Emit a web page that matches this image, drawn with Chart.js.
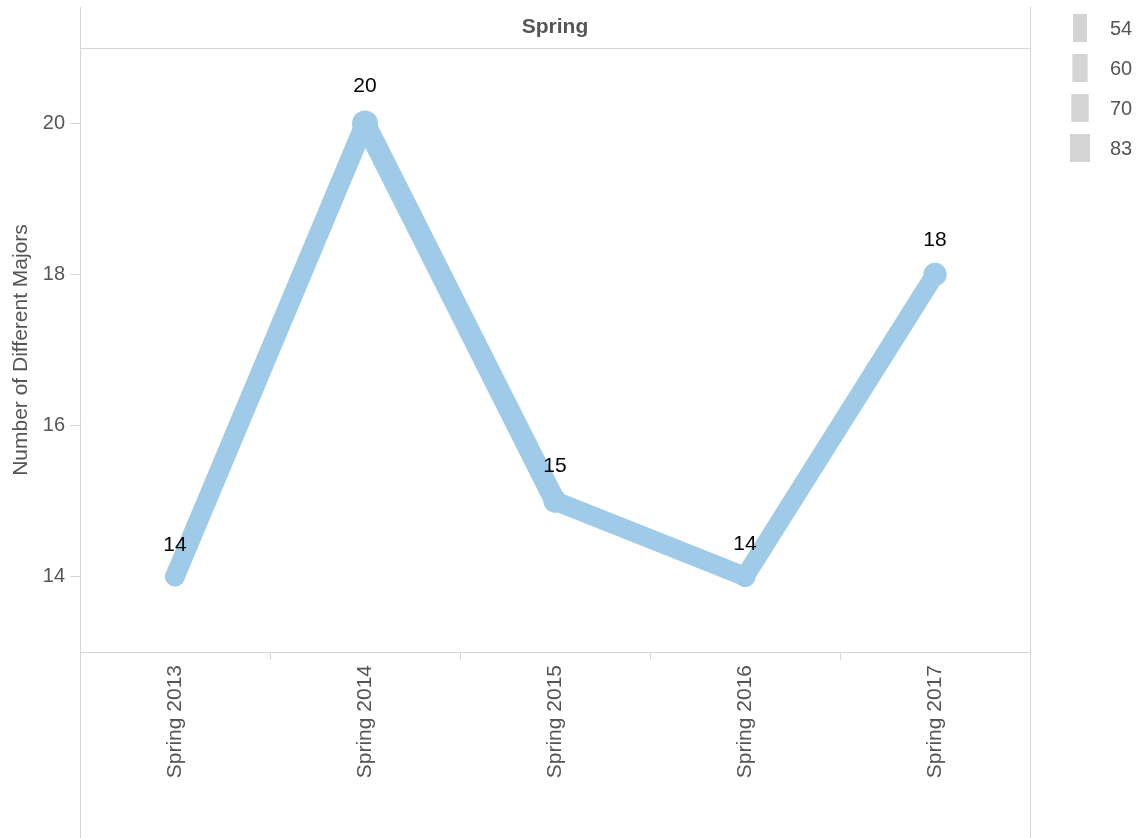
<!DOCTYPE html>
<html>
<head>
<meta charset="utf-8">
<script src="https://cdn.jsdelivr.net/npm/chart.js@4.4.1/dist/chart.umd.min.js"></script>
<style>
  html, body { margin: 0; padding: 0; background: #ffffff; }
  #wrap { width: 1139px; height: 838px; position: relative; }
</style>
</head>
<body>
<div id="wrap"><canvas id="c" width="1139" height="838"></canvas></div>
<script>
// ---- Data ----
const categories = ['Spring 2013', 'Spring 2014', 'Spring 2015', 'Spring 2016', 'Spring 2017'];
const majorsCount = [14, 20, 15, 14, 18];
const sizeValues = [54, 83, 70, 60, 70];
const legendSizes = [54, 60, 70, 83];
const yTicks = [14, 16, 18, 20];
const panelTitle = 'Spring';
const yAxisTitle = 'Number of Different Majors';

// ---- Styles ----
const LINE_COLOR = '#a0cbe8';
const BORDER_COLOR = '#d6d6d6';
const TEXT_COLOR = '#555555';
const FONT = '"Liberation Sans", Arial, sans-serif';

function radiusFor(s) { return 10 + (s - 54) * 3 / 29; }
function legendWidthFor(s) { return 14 + (s - 54) * 6 / 29; }

const framePlugin = {
  id: 'frame',
  beforeDraw(chart) {
    const ctx = chart.ctx;
    const a = chart.chartArea;
    ctx.save();
    ctx.strokeStyle = BORDER_COLOR;
    ctx.lineWidth = 1;
    ctx.beginPath();
    ctx.moveTo(a.left + 0.5, 7);
    ctx.lineTo(a.left + 0.5, chart.height);
    ctx.stroke();
    ctx.beginPath();
    ctx.moveTo(a.right + 0.5, 7);
    ctx.lineTo(a.right + 0.5, chart.height);
    ctx.stroke();
    ctx.beginPath();
    ctx.moveTo(a.left, a.top + 0.5);
    ctx.lineTo(a.right, a.top + 0.5);
    ctx.stroke();
    ctx.beginPath();
    ctx.moveTo(a.left, a.bottom + 0.5);
    ctx.lineTo(a.right, a.bottom + 0.5);
    ctx.stroke();
    ctx.fillStyle = TEXT_COLOR;
    ctx.font = 'bold 21px ' + FONT;
    ctx.textAlign = 'center';
    ctx.textBaseline = 'middle';
    ctx.fillText(panelTitle, (a.left + a.right) / 2, 27);
    ctx.font = '20px ' + FONT;
    ctx.textAlign = 'left';
    legendSizes.forEach((s, i) => {
      const cy = 28 + i * 40;
      const w = legendWidthFor(s);
      const cx = 1080;
      ctx.fillStyle = '#d4d4d4';
      ctx.fillRect(cx - w / 2, cy - 14, w, 28);
      ctx.fillStyle = TEXT_COLOR;
      ctx.fillText(String(s), 1110, cy + 1);
    });
    ctx.restore();
  },
  afterDatasetsDraw(chart) {
    const ctx = chart.ctx;
    const meta = chart.getDatasetMeta(0);
    ctx.save();
    ctx.fillStyle = '#000000';
    ctx.font = '21px ' + FONT;
    ctx.textAlign = 'center';
    ctx.textBaseline = 'middle';
    meta.data.forEach((pt, i) => {
      const r = radiusFor(sizeValues[i]);
      ctx.fillText(String(majorsCount[i]), pt.x, pt.y - (2 * r + 11));
    });
    ctx.restore();
  }
};

new Chart(document.getElementById('c'), {
  type: 'line',
  data: {
    labels: categories,
    datasets: [{
      data: majorsCount,
      borderColor: LINE_COLOR,
      backgroundColor: LINE_COLOR,
      pointBackgroundColor: LINE_COLOR,
      pointBorderWidth: 0,
      pointRadius: sizeValues.map(radiusFor),
      pointHoverRadius: sizeValues.map(radiusFor),
      borderJoinStyle: 'round',
      borderCapStyle: 'round',
      tension: 0,
      segment: {
        borderWidth: (c) => (radiusFor(sizeValues[c.p0DataIndex]) + radiusFor(sizeValues[c.p1DataIndex])) * 0.86
      }
    }]
  },
  options: {
    responsive: false,
    animation: false,
    events: [],
    layout: { padding: { top: 48, right: 109, left: 0, bottom: 0 } },
    plugins: {
      legend: { display: false },
      tooltip: { enabled: false }
    },
    scales: {
      x: {
        offset: true,
        grid: {
          offset: true,
          drawOnChartArea: false,
          tickLength: 8,
          color: BORDER_COLOR
        },
        border: { display: false },
        ticks: {
          minRotation: 90,
          maxRotation: 90,
          padding: 5,
          color: TEXT_COLOR,
          font: { family: FONT, size: 21 }
        },
        afterFit(scale) { scale.height = 186; }
      },
      y: {
        min: 13,
        max: 21,
        grid: {
          drawOnChartArea: false,
          tickLength: 10,
          color: BORDER_COLOR
        },
        border: { display: false },
        afterBuildTicks(scale) { scale.ticks = yTicks.map(v => ({ value: v })); },
        ticks: {
          padding: 5,
          color: TEXT_COLOR,
          font: { family: FONT, size: 20 }
        },
        title: {
          display: true,
          text: yAxisTitle,
          color: TEXT_COLOR,
          font: { family: FONT, size: 21 },
          padding: { top: 9, bottom: 0 }
        },
        afterFit(scale) { scale.width = 80; }
      }
    }
  },
  plugins: [framePlugin]
});
</script>
</body>
</html>
